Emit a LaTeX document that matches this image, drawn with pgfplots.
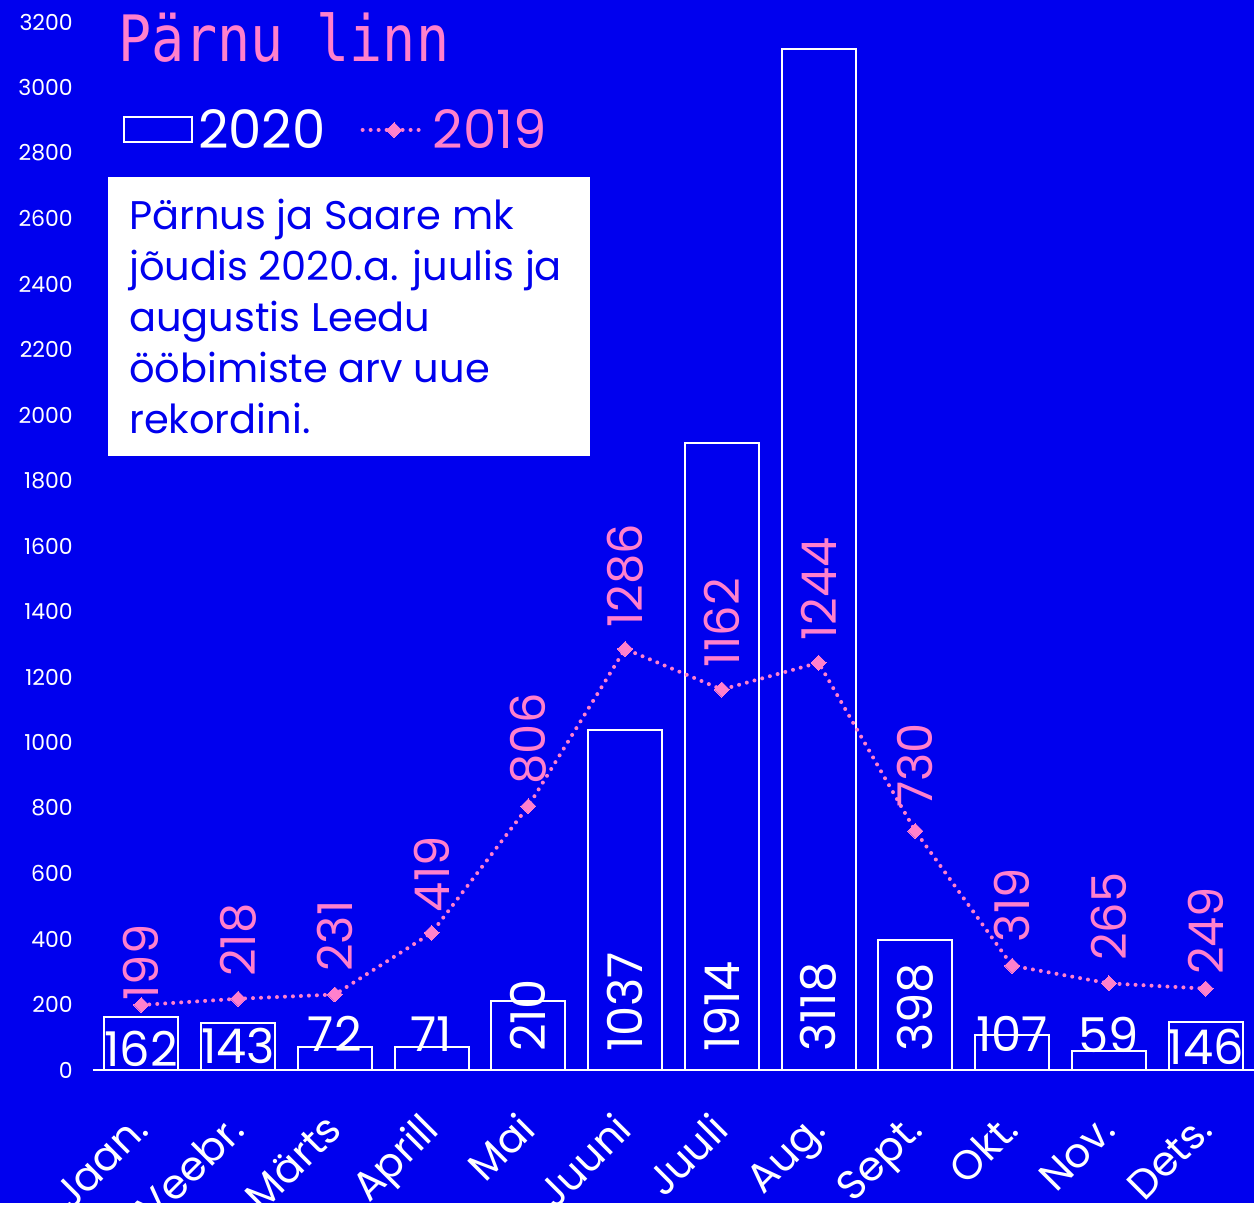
\documentclass[border=0pt]{standalone}
\usepackage{fontspec}
\setmainfont{Poppins}
\newfontfamily\titlefont[FakeStretch=0.86]{DejaVu Sans Mono}
\usepackage{pgfplots}
\pgfplotsset{compat=1.18}
\definecolor{bg}{RGB}{0,0,238}
\definecolor{pinkc}{RGB}{255,128,204}
\pgfplotsset{
  dotleg/.style={legend image code/.code={\draw[mark repeat=2, mark phase=2, ##1] plot coordinates {(0pt,0pt) (31.5pt,0pt) (63pt,0pt)};}},
  barleg/.style={legend image code/.code={\draw[white, line width=2pt] (0pt,-12.5pt) rectangle (68pt,12.5pt);}}
}
\begin{document}
\begin{tikzpicture}[x=1pt,y=1pt]
\fill[bg] (0,0) rectangle (1255,1204);
\begin{axis}[
  at={(93pt,133pt)}, anchor=south west,
  scale only axis, width=1162pt, height=1049pt,
  xmin=-0.5, xmax=11.5, ymin=0, ymax=3200,
  axis x line=bottom, axis y line=left,
  x axis line style={white, line width=2pt, -},
  y axis line style={draw=none},
  major tick length=0pt,
  xtick={0,...,11},
  xticklabels={Jaan.,Veebr.,Märts,Aprill,Mai,Juuni,Juuli,Aug.,Sept.,Okt.,Nov.,Dets.},
  ytick={0,200,...,3200},
  /pgf/number format/1000 sep={},
  /pgf/number format/assume math mode=true,
  yticklabel style={font=\fontsize{22}{22}\selectfont, text=white, anchor=east, inner sep=0pt, xshift=-20pt},
  xticklabel style={font=\fontsize{41}{41}\selectfont, text=white, inner sep=0pt, xshift=9pt, yshift=-62pt, rotate=45, anchor=base east},
  clip=false,
  legend style={at={(axis description cs:0.026,0.897)}, anchor=west, draw=none, fill=none, inner sep=0pt,
    font=\fontsize{53}{53}\selectfont, text=white, nodes={inner sep=5pt},
    /tikz/every even column/.append style={column sep=30pt}},
  legend columns=2,
]
\addplot[ybar, bar width=74pt, draw=white, line width=2pt, fill=none, barleg]
  coordinates {(0,162)(1,143)(2,72)(3,71)(4,210)(5,1037)(6,1914)(7,3118)(8,398)(9,107)(10,59)(11,146)};
\addlegendentry{2020}
\addplot[pinkc, line width=4pt, line cap=round, dash pattern=on 0pt off 8pt,
  mark=square*, mark size=5.3pt,
  mark options={solid, rotate=45, fill=pinkc, draw=pinkc, line width=0pt},
  dotleg]
  coordinates {(0,199) (1,218) (2,231) (3,419) (4,806) (5,1286)
    (6,1162) (7,1244) (8,730) (9,319) (10,265) (11,249)};
\addlegendentry{\textcolor{pinkc}{2019}}
% labels of the 2019 line
\addplot[forget plot, draw=none, mark=none, nodes near coords, point meta=explicit symbolic,
  every node near coord/.append style={font=\fontsize{48}{48}\selectfont, text=pinkc, inner sep=0pt, rotate=90, anchor=west}]
  coordinates {(0,212)[199] (1,285)[218] (2,300)[231] (3,482)[419] (4,872)[806] (5,1350)[1286]
    (6,1230)[1162] (7,1310)[1244] (8,800)[730] (9,390)[319] (10,333)[265] (11,290)[249]};
% rotated labels of the bars
\addplot[forget plot, draw=none, mark=none, nodes near coords, point meta=explicit symbolic,
  every node near coord/.append style={font=\fontsize{48}{48}\selectfont, text=white, inner sep=0pt, rotate=90, anchor=west}]
  coordinates {(4,55)[210] (5,55)[1037] (6,55)[1914] (7,55)[3118] (8,55)[398]};
% horizontal labels of the bars
\addplot[forget plot, draw=none, mark=none, nodes near coords, point meta=explicit symbolic,
  every node near coord/.append style={font=\fontsize{48}{48}\selectfont, text=white, inner sep=0pt, anchor=center}]
  coordinates {(0,64)[162] (1,73)[143] (2,110)[72] (3,110)[71] (9,110)[107] (10,107)[59] (11,70)[146]};
\end{axis}
\node[anchor=base west, inner sep=0pt, text=pinkc, font=\titlefont\fontsize{64}{64}\selectfont] at (118,1142) {Pärnu linn};
\fill[white] (108,748) rectangle (590,1027);
\begin{scope}[every node/.style={anchor=base west, inner sep=0pt, text=bg, font=\fontsize{40}{40}\selectfont}]
\node at (129,974) {Pärnus ja Saare mk};
\node at (129,923) {jõudis 2020.a. juulis ja};
\node at (129,872) {augustis Leedu};
\node at (129,821) {ööbimiste arv uue};
\node at (129,770) {rekordini.};
\end{scope}
\end{tikzpicture}
\end{document}
